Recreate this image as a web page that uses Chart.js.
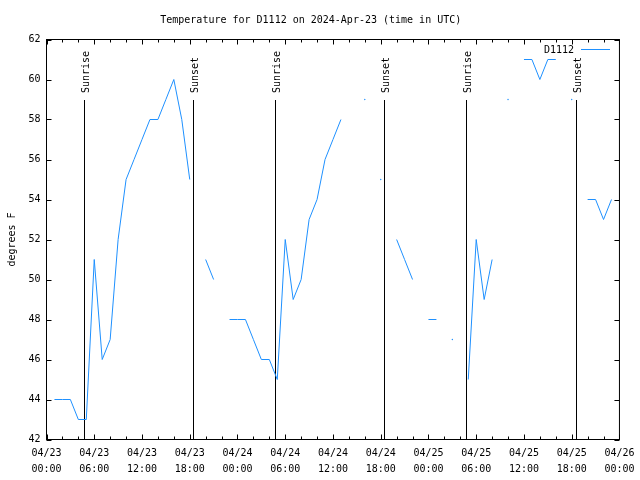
<!DOCTYPE html>
<html>
<head>
<meta charset="utf-8">
<script src="https://cdn.jsdelivr.net/npm/chart.js@4"></script>
<style>
  html, body { margin: 0; padding: 0; background: #fff; }
  canvas { display: block; }
</style>
</head>
<body>
<canvas id="myChart" width="640" height="480"></canvas>
<script>
// hours since 2024-04-23 00:00 UTC
const hours = [];
for (let h = 0; h < 72; h++) hours.push(h);

// temperature readings (F), null = no reading
const temps = [
  null, 44, 44, 44, 43, 43, 51, 46, 47, 52, 55, 56,
  57, 58, 58, 59, 60, 58, 55, null, 51, 50, null, 48,
  48, 48, 47, 46, 46, 45, 52, 49, 50, 53, 54, 56,
  57, 58, null, null, 59, null, 55, null, 52, 51, 50, null,
  48, 48, null, 47, null, 45, 52, 49, 51, null, 59, null,
  61, 61, 60, 61, 61, null, 59, null, 54, 54, 53, 54
];

const xTickLabels = [
  ["04/23", "00:00"], ["04/23", "06:00"], ["04/23", "12:00"], ["04/23", "18:00"],
  ["04/24", "00:00"], ["04/24", "06:00"], ["04/24", "12:00"], ["04/24", "18:00"],
  ["04/25", "00:00"], ["04/25", "06:00"], ["04/25", "12:00"], ["04/25", "18:00"],
  ["04/26", "00:00"]
];

// sunrise / sunset markers (hours since start)
const sunHours = [4.72, 18.37, 28.73, 42.43, 52.7, 66.5];
const sunLabels = ["Sunrise", "Sunset", "Sunrise", "Sunset", "Sunrise", "Sunset"];
const sunTop = 59;

const lineColor = "#1e90ff";
const monoFont = "'DejaVu Sans Mono', monospace";

const points = hours.map((h, i) => ({x: h, y: temps[i]}));

// gnuplot-ish frame, ticks, sun markers and key
const gnuFrame = {
  id: 'gnuFrame',
  beforeDatasetsDraw(chart) {
    const ctx = chart.ctx;
    const xs = chart.scales.x, ys = chart.scales.y;
    ctx.save();
    ctx.strokeStyle = '#000';
    ctx.lineWidth = 1;
    ctx.fillStyle = '#000';
    ctx.font = '10px ' + monoFont;
    sunHours.forEach((h, i) => {
      const px = Math.round(xs.getPixelForValue(h)) + 0.5;
      const top = Math.round(ys.getPixelForValue(sunTop));
      ctx.beginPath();
      ctx.moveTo(px, chart.chartArea.bottom);
      ctx.lineTo(px, top);
      ctx.stroke();
      ctx.save();
      ctx.translate(px + 1.5, top - 7);
      ctx.rotate(-Math.PI / 2);
      ctx.textAlign = 'left';
      ctx.textBaseline = 'middle';
      ctx.fillText(sunLabels[i], 0, 0);
      ctx.restore();
    });
    ctx.restore();
  },
  afterDraw(chart) {
    const ctx = chart.ctx;
    const a = chart.chartArea;
    const xs = chart.scales.x, ys = chart.scales.y;
    ctx.save();
    ctx.strokeStyle = '#000';
    ctx.lineWidth = 1;
    ctx.strokeRect(a.left, a.top, a.right - a.left, a.bottom - a.top);
    ctx.beginPath();
    for (let h = 0; h <= 72; h += 2) {
      const px = Math.round(xs.getPixelForValue(h)) + 0.5;
      const len = h % 6 === 0 ? 5 : 3;
      ctx.moveTo(px, a.bottom); ctx.lineTo(px, a.bottom - len);
      ctx.moveTo(px, a.top); ctx.lineTo(px, a.top + len);
    }
    for (let v = 42; v <= 62; v += 2) {
      const py = Math.round(ys.getPixelForValue(v)) + 0.5;
      ctx.moveTo(a.left, py); ctx.lineTo(a.left + 5, py);
      ctx.moveTo(a.right, py); ctx.lineTo(a.right - 5, py);
    }
    ctx.stroke();

    // key
    const ds = chart.data.datasets[0];
    ctx.fillStyle = '#000';
    ctx.font = '10px ' + monoFont;
    ctx.textAlign = 'right';
    ctx.textBaseline = 'middle';
    ctx.fillText(ds.label, 574, 50);
    ctx.strokeStyle = ds.borderColor;
    ctx.beginPath();
    ctx.moveTo(581, 49.5);
    ctx.lineTo(610, 49.5);
    ctx.stroke();
    ctx.restore();
  }
};

new Chart("myChart", {
  type: "line",
  data: {
    datasets: [{
      label: "D1112",
      data: points,
      borderColor: lineColor,
      backgroundColor: lineColor,
      borderWidth: 1,
      spanGaps: false,
      pointBorderWidth: 0,
      pointRadius: ctx => {
        const i = ctx.dataIndex;
        if (temps[i] == null) return 0;
        const prev = i > 0 ? temps[i - 1] : null;
        const next = i < temps.length - 1 ? temps[i + 1] : null;
        return (prev == null && next == null) ? 0.7 : 0;
      },
      pointHoverRadius: 0,
      tension: 0
    }]
  },
  plugins: [gnuFrame],
  options: {
    responsive: false,
    animation: false,
    layout: {padding: {left: 0, right: 18.5, top: 0, bottom: 0}},
    plugins: {
      legend: {display: false},
      tooltip: {enabled: false},
      title: {
        display: true,
        text: "Temperature for D1112 on 2024-Apr-23 (time in UTC)",
        color: '#000',
        font: {family: monoFont, size: 10, weight: 'normal', lineHeight: 1.2},
        padding: {top: 14, bottom: 13.5}
      }
    },
    scales: {
      x: {
        type: 'linear',
        min: 0,
        max: 72,
        grid: {display: false, drawTicks: false},
        border: {display: false},
        afterFit: s => { s.height = 40.5; },
        ticks: {
          stepSize: 6,
          autoSkip: false,
          maxRotation: 0,
          padding: 5.5,
          color: '#000',
          font: {family: monoFont, size: 10, lineHeight: 1.6},
          callback: v => xTickLabels[v / 6]
        }
      },
      y: {
        min: 42,
        max: 62,
        grid: {display: false, drawTicks: false},
        border: {display: false},
        afterFit: s => { s.width = 46.5; },
        title: {
          display: true,
          text: "degrees F",
          color: '#000',
          font: {family: monoFont, size: 10, lineHeight: 1.2},
          padding: {top: 6.5, bottom: 0}
        },
        ticks: {
          stepSize: 2,
          padding: 6,
          color: '#000',
          font: {family: monoFont, size: 10}
        }
      }
    }
  }
});
</script>
</body>
</html>
